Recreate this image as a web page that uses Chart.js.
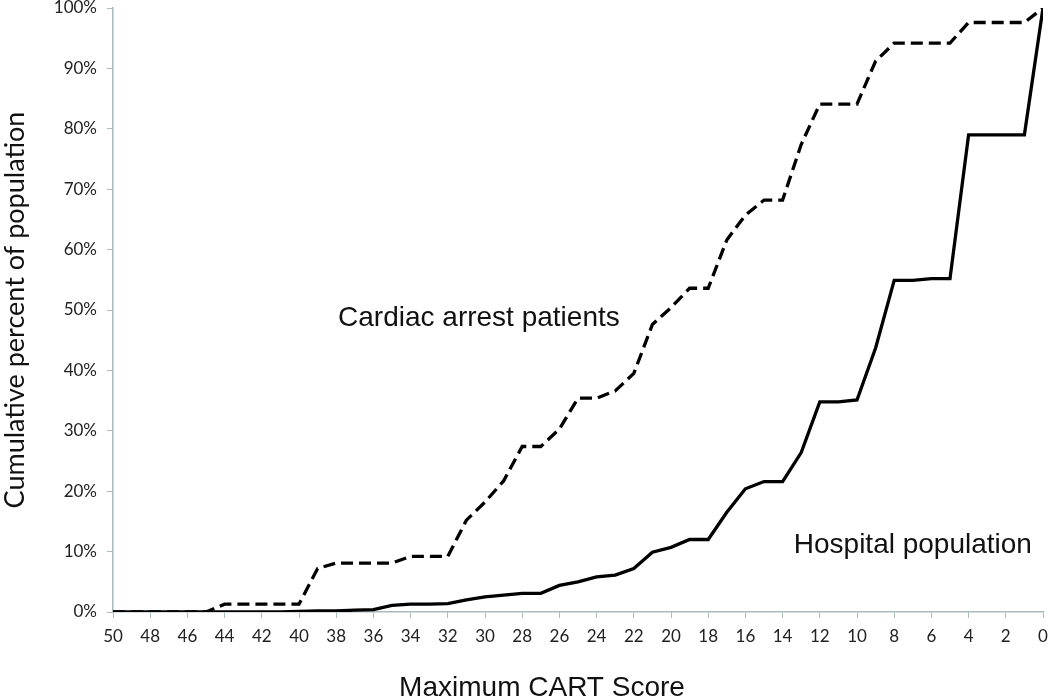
<!DOCTYPE html>
<html>
<head>
<meta charset="utf-8">
<title>Cumulative percent of population by maximum CART score</title>
<script src="https://cdn.jsdelivr.net/npm/chart.js@4.4.1/dist/chart.umd.min.js"></script>
<style>
    html, body { margin: 0; padding: 0; background: #fff; }
    #wrap { position: relative; width: 1050px; height: 699px; }
</style>
</head>
<body>
<div id="wrap"><canvas id="cartChart"></canvas></div>
<script>
// ----------------------------------------------------------------------------
// Data
// ----------------------------------------------------------------------------
const cartScores = [50, 49, 48, 47, 46, 45, 44, 43, 42, 41, 40, 39, 38, 37, 36, 35, 34,
    33, 32, 31, 30, 29, 28, 27, 26, 25, 24, 23, 22, 21, 20, 19, 18, 17, 16, 15, 14,
    13, 12, 11, 10, 9, 8, 7, 6, 5, 4, 3, 2, 1, 0];

const cardiacArrest = [0, 0, 0, 0, 0, 0, 1.3, 1.3, 1.3, 1.3, 1.3, 7.2, 8.1, 8.1, 8.1, 8.1, 9.2,
    9.2, 9.2, 15.2, 18.2, 21.7, 27.4, 27.4, 30.3, 35.4, 35.4, 36.6, 39.5, 47.6, 50.4, 53.6, 53.6, 61.6, 65.7, 68.2, 68.2,
    77.4, 84.1, 84.1, 84.1, 91.2, 94.2, 94.2, 94.2, 94.2, 97.6, 97.6, 97.6, 97.6, 100];

const hospitalPop = [0, 0, 0, 0, 0, 0, 0, 0, 0, 0, 0.1, 0.2, 0.2, 0.3, 0.4, 1.1, 1.3,
    1.3, 1.4, 2.0, 2.5, 2.8, 3.1, 3.1, 4.4, 5.0, 5.8, 6.1, 7.2, 9.9, 10.7, 12.0, 12.0, 16.5, 20.4, 21.6, 21.6,
    26.4, 34.8, 34.8, 35.1, 43.7, 54.9, 54.9, 55.2, 55.2, 79.0, 79.0, 79.0, 79.0, 100];

const yTicks = [0, 10, 20, 30, 40, 50, 60, 70, 80, 90, 100];

const AXIS_COLOR = '#a9bbbb';
const TICK_FONT = { family: 'Lato, "Open Sans", sans-serif', size: 17 };

function toPoints(values) {
    return cartScores.map((s, i) => ({ x: s, y: values[i] }));
}

// in-plot text labels + x axis title
const textLabels = {
    id: 'textLabels',
    afterDraw(chart) {
        const { ctx, scales: { x, y }, chartArea } = chart;
        ctx.save();
        ctx.fillStyle = '#111';
        ctx.font = '28px "Liberation Sans", Arial, sans-serif';
        ctx.textBaseline = 'alphabetic';
        ctx.textAlign = 'left';
        ctx.fillText('Cardiac arrest patients', x.getPixelForValue(37.9), y.getPixelForValue(47.3));
        ctx.fillText('Hospital population', x.getPixelForValue(13.4), y.getPixelForValue(9.7));

        ctx.textAlign = 'center';
        ctx.fillText('Maximum CART Score', (chartArea.left + chartArea.right) / 2 - 36, chart.height - 3);
        ctx.restore();
    }
};

function renderCartChart() {
    const ctx = document.getElementById('cartChart').getContext('2d');

    new Chart(ctx, {
        type: 'line',
        data: {
            datasets: [
                {
                    label: 'Cardiac arrest patients',
                    data: toPoints(cardiacArrest),
                    borderColor: '#000',
                    borderWidth: 3.3,
                    borderDash: [12, 6],
                    pointRadius: 0,
                    tension: 0,
                    fill: false
                },
                {
                    label: 'Hospital population',
                    data: toPoints(hospitalPop),
                    borderColor: '#000',
                    borderWidth: 3.3,
                    pointRadius: 0,
                    tension: 0,
                    fill: false
                }
            ]
        },
        options: {
            responsive: true,
            maintainAspectRatio: false,
            animation: false,
            layout: { padding: { top: 8, right: 7, left: 0, bottom: 0 } },
            plugins: {
                legend: { display: false },
                tooltip: { enabled: false }
            },
            scales: {
                x: {
                    type: 'linear',
                    reverse: true,
                    min: 0,
                    max: 50,
                    afterFit(scale) {
                        scale.height = 87;
                        scale.paddingLeft = 0;
                        scale.paddingRight = 0;
                    },
                    ticks: {
                        stepSize: 2,
                        color: '#222',
                        font: TICK_FONT,
                        padding: 8,
                        maxRotation: 0,
                        autoSkip: false
                    },
                    grid: {
                        drawOnChartArea: false,
                        drawTicks: true,
                        tickLength: 6,
                        color: AXIS_COLOR
                    },
                    border: { color: AXIS_COLOR, width: 1.5 },
                    title: { display: false }
                },
                y: {
                    min: 0,
                    max: 100,
                    afterFit(scale) {
                        scale.width = 113;
                        scale.paddingTop = 0;
                        scale.paddingBottom = 0;
                    },
                    afterBuildTicks(scale) {
                        scale.ticks = yTicks.map(v => ({ value: v }));
                    },
                    ticks: {
                        color: '#222',
                        font: TICK_FONT,
                        padding: 10,
                        callback: function(value) {
                            return value + '%';
                        }
                    },
                    grid: {
                        drawOnChartArea: false,
                        drawTicks: true,
                        tickLength: 6,
                        color: AXIS_COLOR
                    },
                    border: { color: AXIS_COLOR, width: 1.5 },
                    title: {
                        display: true,
                        text: 'Cumulative percent of population',
                        color: '#111',
                        font: { family: 'Lato, "Open Sans", sans-serif', size: 27, lineHeight: 1.1 },
                        padding: { top: 0, bottom: 0 }
                    }
                }
            }
        },
        plugins: [textLabels]
    });
}

if (document.readyState === 'loading') {
    document.addEventListener('DOMContentLoaded', renderCartChart);
} else {
    renderCartChart();
}
</script>
</body>
</html>
